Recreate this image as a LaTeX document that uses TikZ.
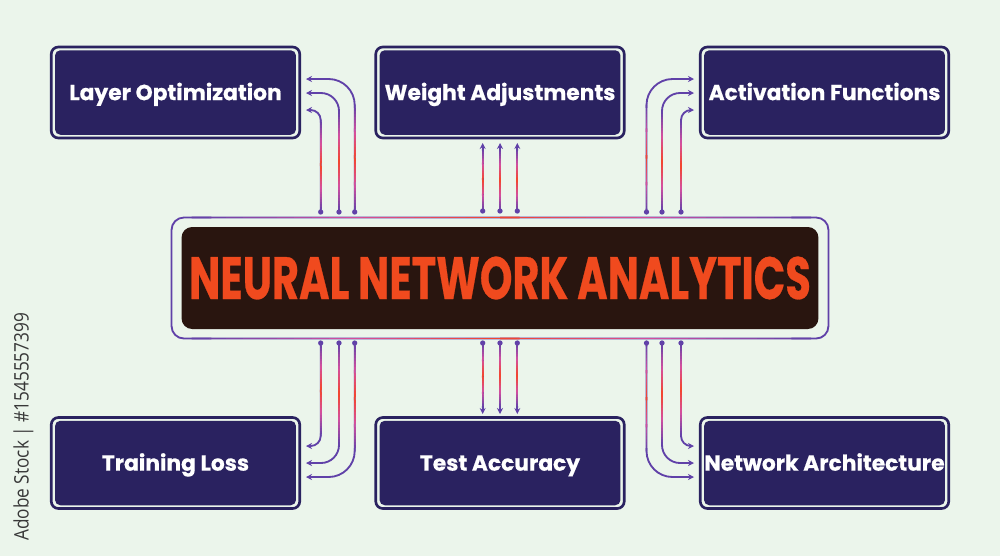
\documentclass[tikz,border=0pt]{standalone}
\usepackage{fontspec}
\setmainfont{Poppins}[BoldFeatures={FakeBold=0.5}]
\newfontfamily\sidefont{Open Sans}
\usetikzlibrary{arrows.meta,calc,positioning}
\definecolor{pagebg}{HTML}{EBF5EB}
\definecolor{boxnavy}{HTML}{2A2260}
\definecolor{titledark}{HTML}{29150F}
\definecolor{titlered}{HTML}{F04A1E}
\definecolor{wirepurple}{HTML}{6041A8}
\definecolor{wirepink}{HTML}{D350A0}
\definecolor{wirered}{HTML}{F4452A}
\tikzset{
    outerbox/.style={draw=boxnavy,line width=1.5pt,fill=pagebg,rounded corners=4pt,minimum width=4.97cm,minimum height=1.82cm},
    innerbox/.style={fill=boxnavy,rounded corners=3pt,minimum width=4.82cm,minimum height=1.69cm,inner sep=0pt,text=white,text height=8.7pt,text depth=0pt,font=\fontsize{12.4}{14}\selectfont\bfseries},
    wire/.style={draw=wirepurple,line width=1.05pt},
    wiretip/.style={-{Stealth[length=3.4pt,width=3.4pt]}},
    wiredot/.style={circle,fill=wirepurple,minimum size=3pt,inner sep=0pt}
}
\newcommand{\fadeline}[2]{%
    \foreach \i in {0,...,35}{
        \pgfmathsetmacro{\ta}{\i/36}
        \pgfmathsetmacro{\tb}{(\i+1.15)/36}
        \pgfmathtruncatemacro{\tone}{200*(1-abs(2*(\i+0.5)/36-1))}
        \ifnum\tone<100
            \colorlet{wirenow}{wirepink!\tone!wirepurple}
        \else
            \pgfmathtruncatemacro{\ttwo}{\tone-100}
            \colorlet{wirenow}{wirered!\ttwo!wirepink}
        \fi
        \draw[draw=wirenow,line width=1.05pt] ($(#1)!\ta!(#2)$) -- ($(#1)!\tb!(#2)$);
    }%
}
\begin{document}
\begin{tikzpicture}[x=0.02cm,y=-0.02cm]
    \fill[pagebg] (0,0) rectangle (1000,556);
    \useasboundingbox (0,0) rectangle (1000,556);

    \node[outerbox] (layerout) at (175.5,92.5) {};
    \node[outerbox] (weightout) at (500,92.5) {};
    \node[outerbox] (activout) at (824.5,92.5) {};
    \node[outerbox] (lossout) at (175.5,463) {};
    \node[outerbox] (testout) at (500,463) {};
    \node[outerbox] (archout) at (824.5,463) {};
    \node[innerbox] (layer) at (layerout) {Layer Optimization};
    \node[innerbox] (weight) at (weightout) {Weight Adjustments};
    \node[innerbox] (activ) at (activout) {Activation Functions};
    \node[innerbox] (loss) at (lossout) {Training Loss};
    \node[innerbox] (test) at (testout) {Test Accuracy};
    \node[innerbox] (arch) at (archout) {Network Architecture};

    \node[draw=wirepurple,line width=1.05pt,outer sep=0pt,rounded corners=7pt,minimum width=13.14cm,minimum height=2.42cm] (hubout) at (500,278) {};
    \node[fill=titledark,rounded corners=6pt,minimum width=12.74cm,minimum height=2.04cm,inner sep=0pt,text=titlered] (hub) at (hubout) {\scalebox{0.694}[1]{\fontsize{34}{36}\selectfont\bfseries NEURAL NETWORK ANALYTICS}};
    \coordinate (hubnw) at ($(hubout.north west)+(20,0)$);
    \coordinate (hubne) at ($(hubout.north east)+(-20,0)$);
    \coordinate (hubsw) at ($(hubout.south west)+(20,0)$);
    \coordinate (hubse) at ($(hubout.south east)+(-20,0)$);
    \fadeline{hubnw}{hubne}
    \fadeline{hubsw}{hubse}

    \foreach \wname/\dx/\dy/\tx/\ty/\rad in {
        la/320.7/212/306/110/10, lb/339/212/306/93/18, lc/354.7/212/306/79/26,
        ra/681/212/694/110/10, rb/662/212/694/93/18, rc/646.5/212/694/79/26,
        sa/320.7/343/306/446/10, sb/339/343/306/463/18, sc/354.7/343/306/477/26,
        ta/681/343/694/446/10, tb/662/343/694/463/18, tc/646.5/343/694/477/26}{
        \node[wiredot] (\wname dot) at (\dx,\dy) {};
        \coordinate (\wname tip) at (\tx,\ty);
        \coordinate (\wname bend) at (\wname dot |- \wname tip);
        \draw[wire,wiretip,rounded corners=\rad*0.02cm] (\wname dot.center) -- (\wname bend) -- (\wname tip);
        \coordinate (\wname end) at ($(\wname bend)!\rad*0.02cm!(\wname dot.center)$);
        \fadeline{\wname dot.center}{\wname end}
    }

    \foreach \wname/\dx/\dy/\ty in {
        ma/482.7/211/143, mb/500/211/143, mc/517.3/211/143,
        na/482.7/343/414, nb/500/343/414, nc/517.3/343/414}{
        \node[wiredot] (\wname dot) at (\dx,\dy) {};
        \coordinate (\wname tip) at (\dx,\ty);
        \draw[wire,wiretip] (\wname dot.center) -- (\wname tip);
        \coordinate (\wname end) at ($(\wname tip)!0.12cm!(\wname dot.center)$);
        \fadeline{\wname dot.center}{\wname end}
    }

    \node[rotate=90,anchor=west,text=black!78,inner sep=0pt,font=\sidefont\fontsize{11.4}{12}\selectfont] (stockid) at (23.5,541) {\scalebox{0.86}[1]{Adobe Stock | \#1545557399}};
\end{tikzpicture}
\end{document}
